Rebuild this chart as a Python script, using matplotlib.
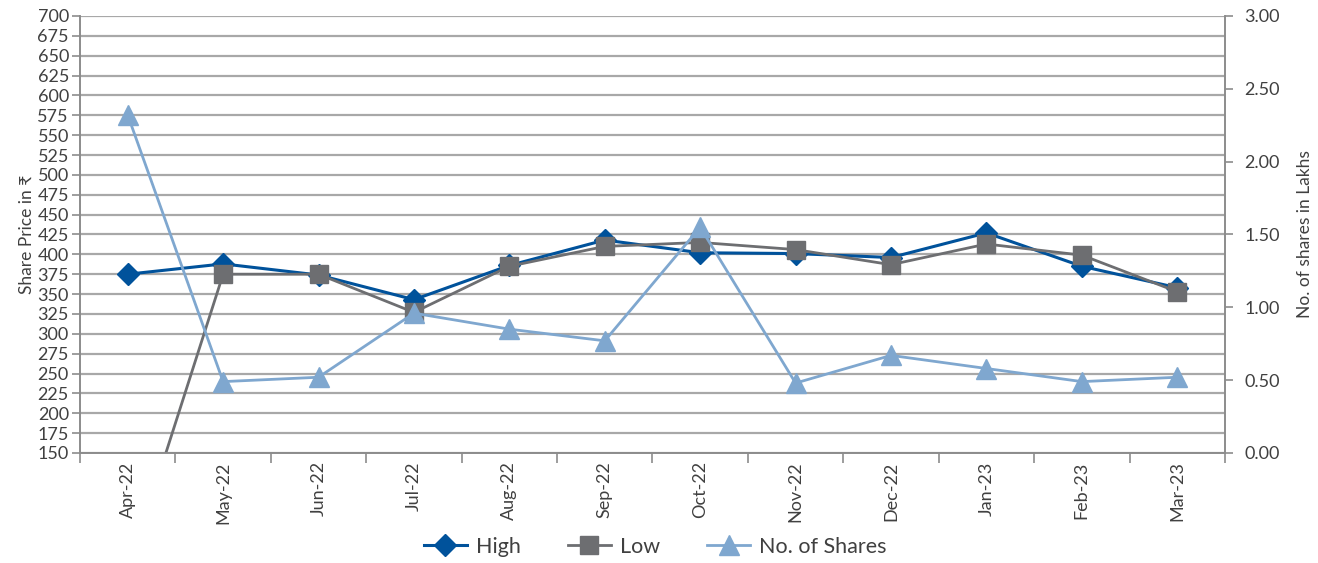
import matplotlib.pyplot as plt
import numpy as np

plt.rcParams['font.family'] = ['Lato', 'DejaVu Sans']

months = ["Apr-22", "May-22", "Jun-22", "Jul-22", "Aug-22", "Sep-22",
          "Oct-22", "Nov-22", "Dec-22", "Jan-23", "Feb-23", "Mar-23"]
high = [375, 388, 374, 343, 386, 418, 402, 401, 396, 427, 385, 358]
low = [0, 375, 375, 327, 385, 410, 415, 406, 387, 413, 399, 353]
shares = [2.32, 0.49, 0.52, 0.96, 0.85, 0.77, 1.55, 0.48, 0.67, 0.58, 0.49, 0.52]

c_high = "#00529B"
c_low = "#6D6E71"
c_shares = "#7FA7CF"
c_axis = "#8C8C8C"
c_text = "#404040"

fig = plt.figure(figsize=(13.18, 5.63), dpi=100)
ax = fig.add_axes([0.0607, 0.1954, 0.8687, 0.7762])
ax2 = ax.twinx()

x = np.arange(len(months))

ax.plot(x, high, color=c_high, lw=2.2, marker="D", ms=11.5, label="High", zorder=2)
ax.plot(x, low, color=c_low, lw=2.0, marker="s", ms=13, label="Low", zorder=3)
ax2.plot(x, shares, color=c_shares, lw=2.0, marker="^", ms=14, label="No. of Shares")

ax.set_xlim(-0.5, len(months) - 0.5)
ax.set_ylim(150, 700)
ax.set_yticks(np.arange(150, 701, 25))
ax2.set_ylim(0, 3)
ax2.set_yticks(np.arange(0, 3.01, 0.5))
ax2.set_yticklabels([f"{v:.2f}" for v in np.arange(0, 3.01, 0.5)])

ax.yaxis.grid(True, color="#A8A8A8", lw=1.6)
ax.set_axisbelow(True)

ax.set_xticks(x)
ax.set_xticklabels(months, rotation=90)
ax.set_xticks(np.arange(-0.5, len(months)), minor=True)
ax.tick_params(axis="x", which="major", length=0, pad=6)
ax.tick_params(axis="x", which="minor", length=7, color=c_axis, width=1.2)
ax.tick_params(axis="y", length=6, color=c_axis, width=1.2, pad=2)
ax2.tick_params(axis="y", length=6, color=c_axis, width=1.2, pad=8)

for a in (ax, ax2):
    a.tick_params(labelsize=13, labelcolor=c_text)
    a.spines["top"].set_visible(False)
    for s in ("left", "right", "bottom"):
        a.spines[s].set_color(c_axis)
        a.spines[s].set_linewidth(1.2)

ax.set_ylabel("Share Price in ₹", fontsize=12.5, color=c_text, labelpad=2)
ax2.set_ylabel("No. of shares in Lakhs", fontsize=12.5, color=c_text, labelpad=12)

h1, l1 = ax.get_legend_handles_labels()
h2, l2 = ax2.get_legend_handles_labels()
fig.legend(h1 + h2, l1 + l2, loc="center", bbox_to_anchor=(0.497, 0.029),
           ncol=3, frameon=False, fontsize=15.5, handlelength=2.0,
           columnspacing=2.2, handletextpad=0.4, labelcolor=c_text)

fig.savefig("out.png", dpi=100)
